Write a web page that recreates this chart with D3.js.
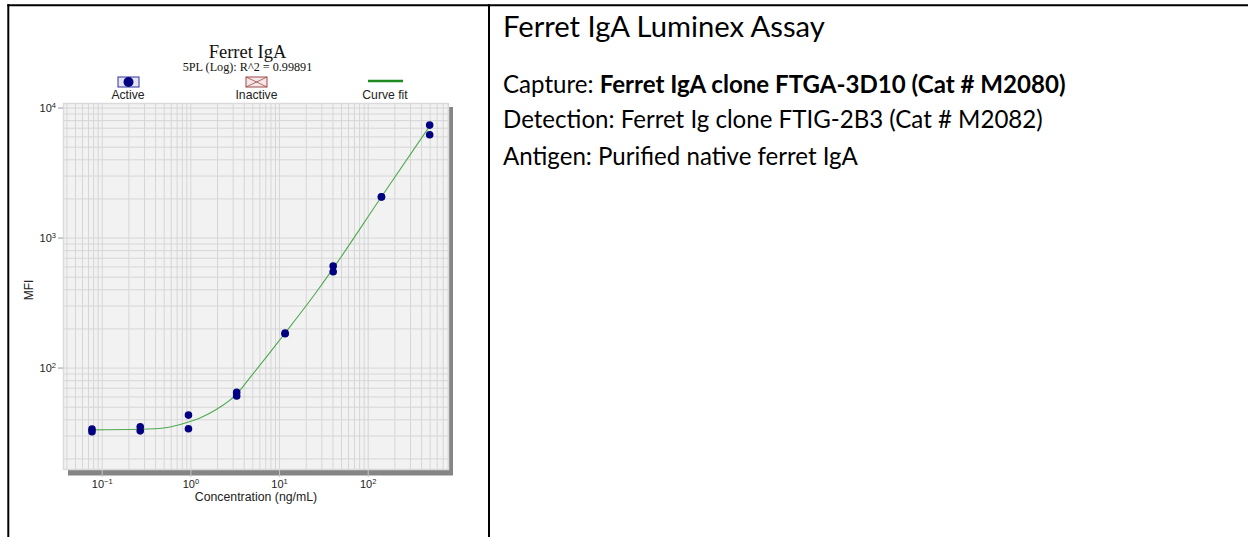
<!DOCTYPE html>
<html><head><meta charset="utf-8">
<script src="https://cdn.jsdelivr.net/npm/d3@7"></script>
<style>body{margin:0;background:#fff;} svg{display:block}</style>
</head><body><svg id="c" width="1250" height="537"></svg>
<script>
// ---------- data ----------
const concentrations = [0.0777, 0.272, 0.952, 3.33, 11.7, 40.8, 143, 500];
const mfiReplicate1 = [33.6, 35.1, 43.1, 64.4, 184, 604, 2060, 7330];
const mfiReplicate2 = [32.1, 32.6, 33.8, 60.4, 182, 546, 2050, 6180];
const curveConc = [0.0777, 0.272, 0.55, 0.952, 1.3, 2.0, 3.33, 4.66, 11.7, 27.8, 40.8, 143, 518];
const curveMfi  = [33.2, 33.5, 34.6, 38.1, 41.1, 48.0, 62.5, 83, 184, 400, 579, 2060, 7460];
const xAxisExtent = [0.0366, 826];
const yAxisExtent = [16.3, 10840];
const xMajorTicks = [0.1, 1, 10, 100];
const xMajorExp = ["-1", "0", "1", "2"];
const yMajorTicks = [100, 1000, 10000];
const yMajorExp = ["2", "3", "4"];
const chartTitle = "Ferret IgA";
const chartSubtitle = "5PL (Log): R^2 = 0.99891";
const legendLabels = ["Active", "Inactive", "Curve fit"];
const xAxisTitle = "Concentration (ng/mL)";
const yAxisTitle = "MFI";
const infoTitle = "Ferret IgA Luminex Assay";
const infoCapture = ["Capture: ", "Ferret IgA clone FTGA-3D10 (Cat # M2080)"];
const infoDetection = "Detection: Ferret Ig clone FTIG-2B3 (Cat # M2082)";
const infoAntigen = "Antigen: Purified native ferret IgA";

// ---------- drawing ----------
const svg = d3.select("#c");
const sans = "'Liberation Sans', Arial, sans-serif";
const serif = "'Liberation Serif', 'Times New Roman', serif";
const body = "Lato, 'Open Sans', sans-serif";

// table borders
svg.append("line").attr("x1", 7.3).attr("x2", 1248).attr("y1", 5.3).attr("y2", 5.3).attr("stroke", "#000").attr("stroke-width", 2);
svg.append("line").attr("x1", 8.3).attr("x2", 8.3).attr("y1", 4.3).attr("y2", 537).attr("stroke", "#000").attr("stroke-width", 2);
svg.append("line").attr("x1", 489).attr("x2", 489).attr("y1", 4.3).attr("y2", 537).attr("stroke", "#000").attr("stroke-width", 2);

const L = 63, R = 449, T = 103, B = 470;
const x = d3.scaleLog().domain(xAxisExtent).range([L, R]);
const y = d3.scaleLog().domain(yAxisExtent).range([B, T]);

// shadow and background
svg.append("rect").attr("x", L + 5).attr("y", T + 4).attr("width", R - L - 1).attr("height", B - T + 1.5).attr("fill", "#858585");
svg.append("rect").attr("x", L).attr("y", T).attr("width", R - L).attr("height", B - T).attr("fill", "#f2f2f2");

// grid
const gx = svg.append("g").attr("transform", `translate(0,${B})`)
  .call(d3.axisBottom(x).tickValues(x.ticks()).tickSize(-(B - T)).tickFormat(""));
gx.select(".domain").remove();
gx.selectAll("line").attr("stroke", "#d6d6d6").attr("stroke-width", 1);
const gy = svg.append("g").attr("transform", `translate(${L},0)`)
  .call(d3.axisLeft(y).tickValues(y.ticks()).tickSize(-(R - L)).tickFormat(""));
gy.select(".domain").remove();
gy.selectAll("line").attr("stroke", "#d6d6d6").attr("stroke-width", 1);

// plot frame
svg.append("rect").attr("x", L + 0.5).attr("y", T + 0.5).attr("width", R - L - 1).attr("height", B - T - 1)
  .attr("fill", "none").attr("stroke", "#dadada").attr("stroke-width", 1.5);

// major axes with labels
const ax = svg.append("g").attr("transform", `translate(0,${B})`)
  .call(d3.axisBottom(x).tickValues(xMajorTicks).tickSize(7).tickPadding(8).tickFormat(""));
ax.select(".domain").remove();
ax.selectAll("line").attr("stroke", "#c4c4c4");
ax.selectAll(".tick").each(function(d, i) {
  const t = d3.select(this).append("text").attr("y", 18).attr("text-anchor", "middle")
    .attr("fill", "#222").attr("font-family", sans).attr("font-size", 11);
  t.append("tspan").text("10");
  t.append("tspan").attr("dy", -4).attr("font-size", 7.5).text(xMajorExp[i].replace("-", "\u2212"));
});
const ay = svg.append("g").attr("transform", `translate(${L},0)`)
  .call(d3.axisLeft(y).tickValues(yMajorTicks).tickSize(5).tickFormat(""));
ay.select(".domain").remove();
ay.selectAll("line").attr("stroke", "#999");
ay.selectAll(".tick").each(function(d, i) {
  const t = d3.select(this).append("text").attr("x", -7).attr("y", 4).attr("text-anchor", "end")
    .attr("fill", "#222").attr("font-family", sans).attr("font-size", 11);
  t.append("tspan").text("10");
  t.append("tspan").attr("dy", -4).attr("font-size", 7.5).text(yMajorExp[i]);
});

// axis titles
svg.append("text").attr("x", 256).attr("y", 501).attr("text-anchor", "middle")
  .attr("font-family", sans).attr("font-size", 12.3).attr("fill", "#222").text(xAxisTitle);
svg.append("text").attr("transform", "translate(33,290) rotate(-90)").attr("text-anchor", "middle")
  .attr("font-family", sans).attr("font-size", 12).attr("fill", "#222").text(yAxisTitle);

// curve
const curvePts = curveConc.map((c, i) => [c, curveMfi[i]]);
svg.append("path").datum(curvePts)
  .attr("d", d3.line().x(d => x(d[0])).y(d => y(d[1])).curve(d3.curveMonotoneX))
  .attr("fill", "none").attr("stroke", "#4fa94f").attr("stroke-width", 1.1);

// points
const pts = [];
concentrations.forEach((c, i) => { pts.push([c, mfiReplicate1[i]]); pts.push([c, mfiReplicate2[i]]); });
svg.append("g").selectAll("circle").data(pts).join("circle")
  .attr("cx", d => x(d[0])).attr("cy", d => y(d[1])).attr("r", 3.8).attr("fill", "#000080");

// title
svg.append("text").attr("x", 247.5).attr("y", 57.5).attr("text-anchor", "middle")
  .attr("font-family", serif).attr("font-size", 18.5).attr("fill", "#111").text(chartTitle);
svg.append("text").attr("x", 247.5).attr("y", 71).attr("text-anchor", "middle")
  .attr("font-family", serif).attr("font-size", 12.2).attr("fill", "#111").text(chartSubtitle);

// legend
const lg = svg.append("g");
lg.append("rect").attr("x", 118).attr("y", 77).attr("width", 21).attr("height", 10)
  .attr("fill", "#e4e4f4").attr("stroke", "#3030a0").attr("stroke-width", 1);
lg.append("circle").attr("cx", 128.5).attr("cy", 82).attr("r", 5).attr("fill", "#000080");
lg.append("rect").attr("x", 246).attr("y", 77).attr("width", 21).attr("height", 10)
  .attr("fill", "#f6e8e8").attr("stroke", "#a04848").attr("stroke-width", 1);
lg.append("path").attr("d", "M246,77L267,87M267,77L246,87").attr("stroke", "#a04848").attr("stroke-width", 0.8);
lg.append("line").attr("x1", 368).attr("x2", 403).attr("y1", 81).attr("y2", 81)
  .attr("stroke", "#1f8a1f").attr("stroke-width", 2.5);
[128, 256.5, 385].forEach((cx, i) => {
  lg.append("text").attr("x", cx).attr("y", 98.5).attr("text-anchor", "middle")
    .attr("font-family", sans).attr("font-size", 12.2).attr("fill", "#222").text(legendLabels[i]);
});

// right panel text (fit to measured widths)
function fitSize(node, base, target) { return base * target / node.getComputedTextLength(); }
const tt = svg.append("text").attr("x", 503).attr("y", 36.5).attr("font-family", body)
  .attr("font-size", 20).attr("fill", "#000").text(infoTitle);
tt.attr("font-size", fitSize(tt.node(), 20, 322));

const det = svg.append("text").attr("x", 503).attr("y", 127.5).attr("font-family", body)
  .attr("font-size", 20).attr("fill", "#000").text(infoDetection);
const bodySize = fitSize(det.node(), 20, 540);
det.attr("font-size", bodySize);

const cap = svg.append("text").attr("x", 503).attr("y", 92.5).attr("font-family", body)
  .attr("font-size", bodySize).attr("fill", "#000");
cap.append("tspan").text(infoCapture[0]);
cap.append("tspan").attr("font-weight", "bold").text(infoCapture[1]);

svg.append("text").attr("x", 503).attr("y", 164.5).attr("font-family", body)
  .attr("font-size", bodySize).attr("fill", "#000").text(infoAntigen);
</script>
</body></html>
